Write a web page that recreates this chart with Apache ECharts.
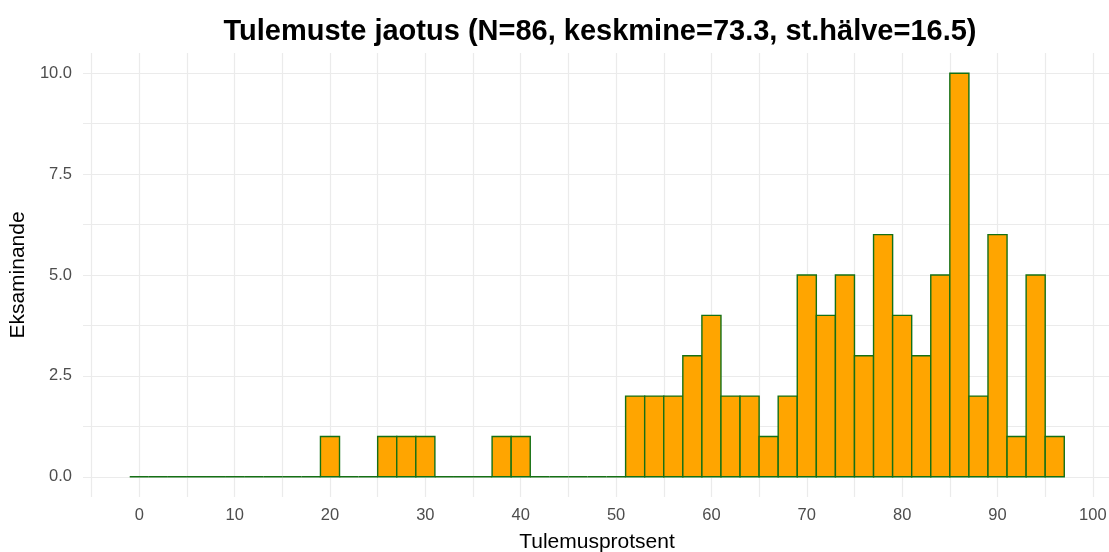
<!DOCTYPE html>
<html>
<head>
<meta charset="utf-8">
<script src="https://cdn.jsdelivr.net/npm/echarts@6/dist/echarts.min.js"></script>
<style>
  html, body { margin: 0; padding: 0; background: #fff; }
  #chart { width: 1109px; height: 552px; }
</style>
</head>
<body>
<div id="chart"></div>
<script>
// histogrammi andmed: binide keskpunktid (laius 2) ja sagedused
const binCenters = [0, 2, 4, 6, 8, 10, 12, 14, 16, 18, 20, 22, 24, 26, 28, 30, 32, 34, 36, 38,
  40, 42, 44, 46, 48, 50, 52, 54, 56, 58, 60, 62, 64, 66, 68, 70, 72, 74, 76, 78,
  80, 82, 84, 86, 88, 90, 92, 94, 96]
const counts = [0, 0, 0, 0, 0, 0, 0, 0, 0, 0, 1, 0, 0, 1, 1, 1, 0, 0, 0, 1,
  1, 0, 0, 0, 0, 0, 2, 2, 2, 3, 4, 2, 2, 1, 2, 5, 4, 5, 3, 6,
  4, 3, 5, 10, 2, 6, 1, 5, 1]
const binWidth = 2

// teljed
const xGridValues = [-5, 0, 5, 10, 15, 20, 25, 30, 35, 40, 45, 50, 55, 60, 65, 70, 75, 80, 85, 90, 95, 100]
const xLabelValues = [0, 10, 20, 30, 40, 50, 60, 70, 80, 90, 100]
const yGridValues = [0, 1.25, 2.5, 3.75, 5, 6.25, 7.5, 8.75, 10]
const yLabelValues = [0, 2.5, 5, 7.5, 10]

const chart = echarts.init(document.getElementById('chart'))

const option = {
  backgroundColor: '#fff',
  animation: false,
  textStyle: { fontFamily: 'Liberation Sans, Arial, sans-serif' },
  title: {
    text: 'Tulemuste jaotus (N=86, keskmine=73.3, st.hälve=16.5)',
    left: 595,
    textAlign: 'center',
    top: 12,
    textStyle: { fontSize: 29, fontWeight: 'bold', color: '#000' }
  },
  grid: { left: 83, top: 53, width: 1028, height: 444, outerBoundsMode: 'none' },
  xAxis: {
    type: 'value',
    min: -5.9,
    max: 101.9,
    name: 'Tulemusprotsent',
    nameLocation: 'middle',
    nameGap: 35,
    nameTextStyle: { fontSize: 21, color: '#000' },
    axisLine: { show: false },
    axisTick: { show: false, customValues: xGridValues },
    axisLabel: { customValues: xLabelValues, fontSize: 16.5, color: '#4d4d4d', margin: 10 },
    splitLine: { show: true, lineStyle: { color: '#ebebeb', width: 1.2 } }
  },
  yAxis: {
    type: 'value',
    min: -0.5,
    max: 10.5,
    name: 'Eksaminande',
    nameLocation: 'middle',
    nameGap: 51,
    nameTextStyle: { fontSize: 21, color: '#000' },
    axisLine: { show: false },
    axisTick: { show: false, customValues: yGridValues },
    axisLabel: {
      customValues: yLabelValues,
      fontSize: 16.5,
      color: '#4d4d4d',
      margin: 11,
      formatter: v => v.toFixed(1)
    },
    splitLine: { show: true, lineStyle: { color: '#ebebeb', width: 1.2 } }
  },
  series: [{
    type: 'custom',
    data: binCenters.map((c, i) => [c, counts[i]]),
    renderItem: (params, api) => {
      const c = api.value(0)
      const n = api.value(1)
      const p0 = api.coord([c - binWidth / 2, n])
      const p1 = api.coord([c + binWidth / 2, 0])
      return {
        type: 'rect',
        shape: { x: p0[0], y: p0[1], width: p1[0] - p0[0], height: p1[1] - p0[1] },
        style: { fill: '#FFA500', stroke: '#157015', lineWidth: 1.4 }
      }
    }
  }]
}

chart.setOption(option)
</script>
</body>
</html>
